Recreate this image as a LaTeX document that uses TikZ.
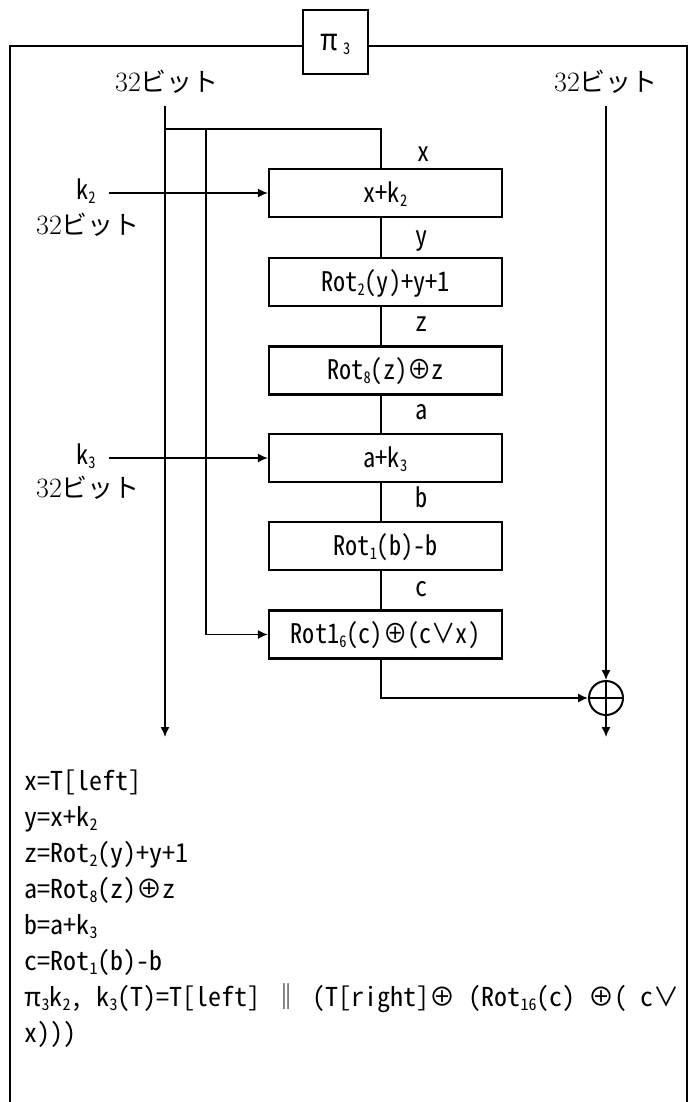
\documentclass[tikz,border=0pt]{standalone}
\usepackage{fontspec}
\newfontfamily\gth[RawFeature=+hwid]{Noto Sans CJK JP}
\newfontfamily\gthn[RawFeature=+hwid,FakeStretch=0.9]{Noto Sans CJK JP}
\newfontfamily\jp{Noto Sans CJK JP}
\usetikzlibrary{arrows.meta}

\newcommand{\lo}[1]{\raisebox{-4pt}{\fontsize{16}{16}\selectfont #1}}
\newcommand{\bitlbl}{{\fontsize{28}{28}\selectfont\rmfamily 32}{\jp\fontsize{26}{26}\selectfont ビット}}

\tikzset{
  blk/.style={draw,line width=2.2pt,minimum width=233pt,minimum height=48pt,inner sep=0pt,
    text height=20pt,text depth=2pt,font=\gthn\fontsize{27}{27}\selectfont},
  lbl/.style={inner sep=0pt,text height=20pt,text depth=2pt,font=\gthn\fontsize{27}{27}\selectfont},
  eq/.style={inner sep=0pt,anchor=base west,font=\gth\fontsize{26}{26}\selectfont},
  arr/.style={-{Latex[length=10pt,width=9pt]}},
}

\begin{document}
\begin{tikzpicture}[x=1pt,y=-1pt,line width=1.4pt]
    \useasboundingbox (0,0) rectangle (696,1102);

    % frame and title
    \draw[line width=2pt] (10,1110) -- (10,46) -- (687,46) -- (687,1110);
    \node[lbl,draw,fill=white,line width=2pt,minimum width=65pt,minimum height=64pt] (ttl) at (335.5,42) {\fontsize{30}{30}\selectfont π\,\lo{3}};

    \node[inner sep=0pt] (bl) at (167,82) {\bitlbl};
    \node[inner sep=0pt] (br) at (606,82) {\bitlbl};

    % round function
    \node[blk] (bxk2) at (385.5,193) {x+k\lo{2}};
    \node[blk] (brot2) at (385.5,282) {Rot\lo{2}(y)+y+1};
    \node[blk] (brot8) at (385.5,370.5) {Rot\lo{8}(z)⊕z};
    \node[blk] (bxk3) at (385.5,458) {a+k\lo{3}};
    \node[blk] (brot1) at (385.5,546) {Rot\lo{1}(b)-b};
    \node[blk] (brot16) at (385.5,634.5) {Rot1\lo{6}(c)⊕(c∨x)};

    \node[lbl] (vx) at (424,153) {x};
    \node[lbl] (vy) at (422,236) {y};
    \node[lbl] (vz) at (422,322) {z};
    \node[lbl] (va) at (422,410) {a};
    \node[lbl] (vb) at (422,498) {b};
    \node[lbl] (vc) at (422,587) {c};

    \node[lbl] (k2) at (86,191) {k\lo{2}};
    \node[inner sep=0pt] (k2b) at (88,225) {\bitlbl};
    \node[lbl] (k3) at (86,455) {k\lo{3}};
    \node[inner sep=0pt] (k3b) at (88,488) {\bitlbl};

    \node[circle,draw,line width=2pt,minimum size=34pt,inner sep=0pt] (xor) at (606,698) {};
    \draw (xor.north) -- (xor.south) (xor.west) -- (xor.east);

    \coordinate (lin) at (165,106);
    \coordinate (lout) at (165,737);
    \coordinate (tap) at (381,129);
    \coordinate (brk) at (206,129);
    \coordinate (rin) at (606,106);
    \coordinate (rout) at (606,737);
    \coordinate (k2in) at (109,193);
    \coordinate (k3in) at (109,458);

    \draw[arr] (lin) -- (lout);
    \draw (lin |- tap) -- (tap) -- (tap |- bxk2.north);
    \draw[arr] (brk) |- (brot16.west);
    \draw (tap |- bxk2.south) -- (tap |- brot2.north);
    \draw (tap |- brot2.south) -- (tap |- brot8.north);
    \draw (tap |- brot8.south) -- (tap |- bxk3.north);
    \draw (tap |- bxk3.south) -- (tap |- brot1.north);
    \draw (tap |- brot1.south) -- (tap |- brot16.north);
    \draw[arr] (tap |- brot16.south) |- (xor.west);
    \draw[arr] (rin) -- (xor.north);
    \draw[arr] (xor.south) -- (rout);
    \draw[arr] (k2in) -- (bxk2.west);
    \draw[arr] (k3in) -- (bxk3.west);

    % equations
    \node[eq] (e1) at (24,790) {x=T[left]};
    \node[eq] (e2) at (24,826) {y=x+k\lo{2}};
    \node[eq] (e3) at (24,862) {z=Rot\lo{2}(y)+y+1};
    \node[eq] (e4) at (24,898) {a=Rot\lo{8}(z)⊕z};
    \node[eq] (e5) at (24,934) {b=a+k\lo{3}};
    \node[eq] (e6) at (24,970) {c=Rot\lo{1}(b)-b};
    \node[eq] (e7) at (24,1006) {π\lo{3}k\lo{2}, k\lo{3}(T)=T[left] ‖ (T[right]⊕ (Rot\lo{16}(c) ⊕( c∨};
    \node[eq] (e8) at (24,1042) {x)))};
\end{tikzpicture}
\end{document}
